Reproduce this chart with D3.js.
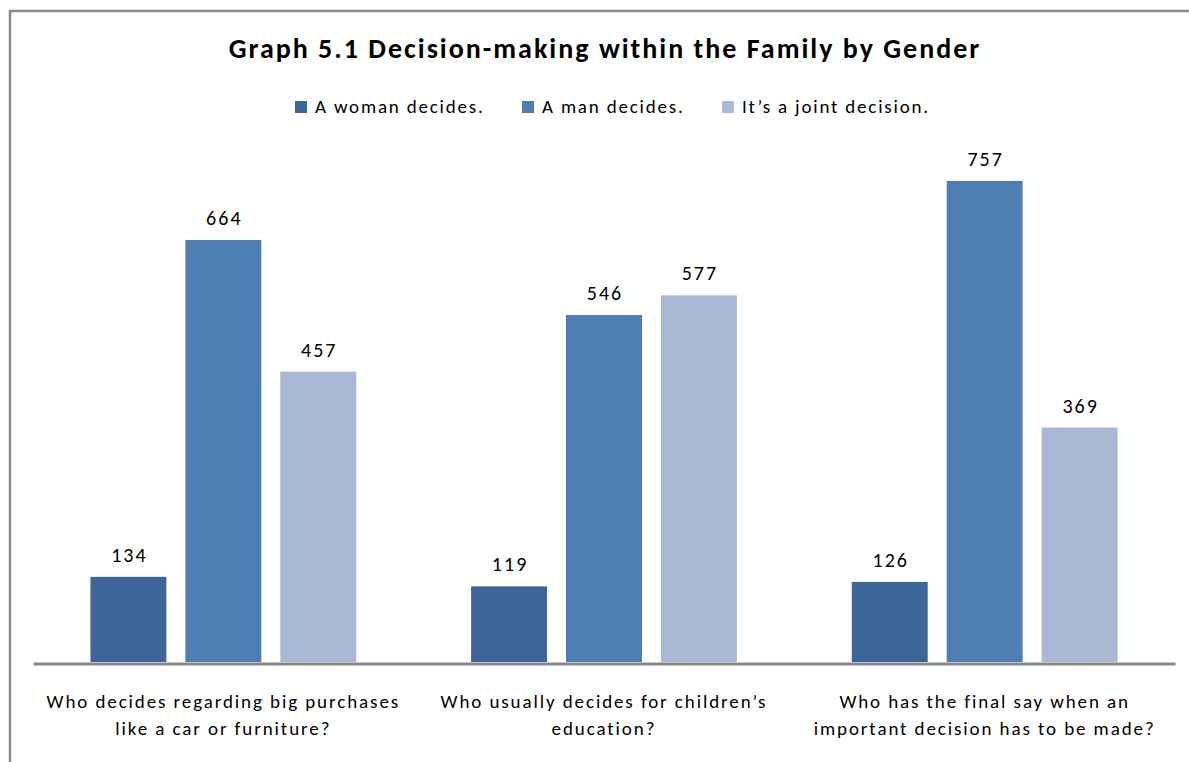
<!DOCTYPE html>
<html>
<head>
<meta charset="utf-8">
<script src="https://cdn.jsdelivr.net/npm/d3@7/dist/d3.min.js"></script>
<style>
  html, body { margin: 0; padding: 0; background: #ffffff; }
  svg { display: block; font-family: Calibri, Carlito, Lato, sans-serif; }
</style>
</head>
<body>
<svg id="chart" width="1189" height="762"></svg>
<script>
// Survey answers: who makes the decision, counted per question
const questions = [
  ["Who decides regarding big purchases", "like a car or furniture?"],
  ["Who usually decides for children\u2019s", "education?"],
  ["Who has the final say when an", "important decision has to be made?"]
];
const seriesNames = ["A woman decides.", "A man decides.", "It\u2019s a joint decision."];
const womanDecides = [134, 119, 126];
const manDecides = [664, 546, 757];
const jointDecision = [457, 577, 369];
const seriesColors = ["#3e6597", "#4e7eb4", "#a9b9d5"];

const seriesValues = [womanDecides, manDecides, jointDecision];
const rows = questions.map((q, i) => ({
  key: i,
  label: q,
  values: seriesNames.map((s, j) => ({ series: s, value: seriesValues[j][i] }))
}));

const svg = d3.select("#chart");

// Outer frame (open to the right and bottom edges)
svg.append("rect")
  .attr("x", 10).attr("y", 11)
  .attr("width", 1400).attr("height", 1000)
  .attr("fill", "none").attr("stroke", "#8a8a8a").attr("stroke-width", 2.5);

// Title
svg.append("text")
  .attr("x", 605).attr("y", 58)
  .attr("text-anchor", "middle")
  .attr("font-size", 28).attr("font-weight", "bold")
  .attr("letter-spacing", 2)
  .attr("fill", "#000")
  .text("Graph 5.1 Decision-making within the Family by Gender");

// Scales
const x0 = d3.scaleBand()
  .domain(rows.map(r => r.key))
  .range([33, 1175])
  .paddingInner(0).paddingOuter(0);

const x1 = d3.scaleBand()
  .domain(seriesNames)
  .range([0, x0.bandwidth()])
  .paddingInner(0.2).paddingOuter(0.605);

const color = d3.scaleOrdinal().domain(seriesNames).range(seriesColors);

const y = d3.scaleLinear().domain([0, 800]).range([662, 153.6]);

// Bars
const groups = svg.append("g").selectAll("g")
  .data(rows).join("g")
  .attr("transform", d => `translate(${x0(d.key)},0)`);

groups.selectAll("rect")
  .data(d => d.values).join("rect")
  .attr("x", d => x1(d.series))
  .attr("width", x1.bandwidth())
  .attr("y", d => y(d.value))
  .attr("height", d => y(0) - y(d.value))
  .attr("fill", d => color(d.series));

// Value labels
groups.selectAll("text.value")
  .data(d => d.values).join("text")
  .attr("class", "value")
  .attr("x", d => x1(d.series) + x1.bandwidth() / 2 + 1)
  .attr("y", d => y(d.value) - 15)
  .attr("text-anchor", "middle")
  .attr("font-size", 20)
  .attr("letter-spacing", 2)
  .attr("fill", "#000")
  .text(d => d.value);

// Category axis line
const xAxis = d3.axisBottom(x0).tickSize(0).tickFormat("");
const axisG = svg.append("g")
  .attr("transform", `translate(0,${y(0) + 1.5})`)
  .call(xAxis);
axisG.select(".domain").attr("stroke", "#878787").attr("stroke-width", 3);

// Category labels (two lines each)
const catLabels = svg.append("g").selectAll("text")
  .data(rows).join("text")
  .attr("x", d => x0(d.key) + x0.bandwidth() / 2)
  .attr("y", 708)
  .attr("text-anchor", "middle")
  .attr("font-size", 19)
  .attr("letter-spacing", 1.9)
  .attr("fill", "#000");
catLabels.selectAll("tspan")
  .data(d => d.label).join("tspan")
  .attr("x", function() { return d3.select(this.parentNode).attr("x"); })
  .attr("dy", (d, i) => i === 0 ? 0 : 27)
  .text(d => d);

// Legend
const legendX = [295, 522, 722];
const legend = svg.append("g").selectAll("g")
  .data(seriesNames).join("g")
  .attr("transform", (d, i) => `translate(${legendX[i]},101)`);
legend.append("rect")
  .attr("width", 12).attr("height", 12)
  .attr("fill", d => color(d));
legend.append("text")
  .attr("x", 20).attr("y", 11.5)
  .attr("font-size", 19)
  .attr("letter-spacing", 1.8)
  .attr("fill", "#000")
  .text(d => d);
</script>
</body>
</html>
